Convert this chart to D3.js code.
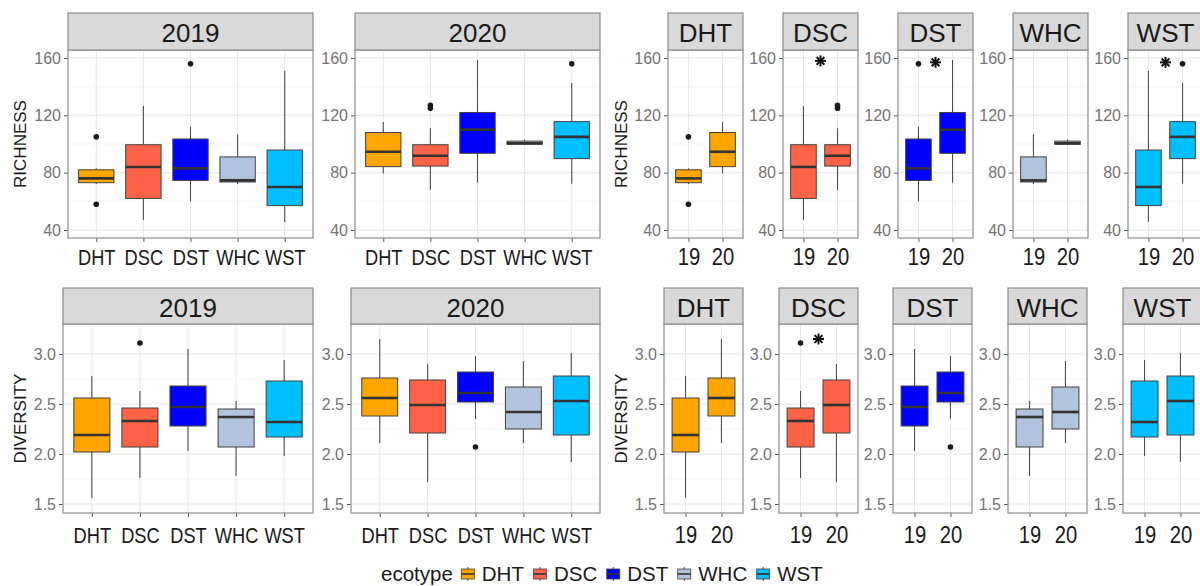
<!DOCTYPE html>
<html>
<head>
<meta charset="utf-8">
<script src="https://cdn.jsdelivr.net/npm/d3@7"></script>
<style>
  body { margin: 0; background: #fff; }
  svg { display: block; font-family: "Liberation Sans", Arial, sans-serif; }
</style>
</head>
<body>
<div id="chart"></div>
<script>
const ecotypes = ["DHT", "DSC", "DST", "WHC", "WST"];
const ecoColors = ["#FFA500", "#FF6347", "#0000FF", "#B0C4DE", "#00BFFF"];
const years = ["2019", "2020"];
const yearTicks = ["19", "20"];

// box stats per ecotype: [lower whisker, q1, median, q3, upper whisker]
const rich2019 = [
  [72, 73, 76, 82, 83],
  [47, 62, 84, 99.5, 126.5],
  [60, 74.6, 83, 103.5, 112],
  [72, 73.5, 74.6, 91, 106.7],
  [45.6, 57, 70, 95.8, 151]
];
const rich2020 = [
  [79.5, 84.2, 94.6, 108, 115.3],
  [68, 84.6, 91.8, 99.5, 111],
  [73, 93.5, 110, 122, 158.6],
  [99.8, 99.8, 100.5, 102, 103.2],
  [72.3, 89.8, 105, 115.6, 142.6]
];
const richOut2019 = [[105, 58], [], [156], [], []];
const richOut2020 = [[], [125, 127], [], [], [156]];
const richStars = [null, 158, 157, null, 157];

const div2019 = [
  [1.56, 2.02, 2.19, 2.56, 2.78],
  [1.76, 2.07, 2.33, 2.46, 2.63],
  [2.03, 2.28, 2.47, 2.68, 3.05],
  [1.78, 2.07, 2.37, 2.45, 2.53],
  [1.98, 2.17, 2.32, 2.73, 2.94]
];
const div2020 = [
  [2.11, 2.38, 2.56, 2.76, 3.15],
  [1.72, 2.21, 2.49, 2.74, 2.90],
  [2.35, 2.52, 2.61, 2.82, 2.98],
  [2.11, 2.25, 2.42, 2.67, 2.93],
  [1.92, 2.19, 2.53, 2.78, 3.01]
];
const divOut2019 = [[], [3.11], [], [], []];
const divOut2020 = [[], [], [2.07], [], []];
const divStars = [null, 3.15, null, null, null];

const richTicks = [40, 80, 120, 160];
const richMinor = [60, 100, 140];
const divTicks = [1.5, 2.0, 2.5, 3.0];
const divMinor = [1.75, 2.25, 2.75];

const W = 1200, H = 586;
const svg = d3.select("#chart").append("svg")
  .attr("width", W)
  .attr("height", H);

// layout of the two rows
const rows = [
  {
    name: "RICHNESS", stats: [rich2019, rich2020], outs: [richOut2019, richOut2020], stars: richStars,
    ticks: richTicks, minor: richMinor, domain: [34.4, 165.6], fmt: d3.format("d"),
    stripTop: 13, y0: 50, y1: 238, stripBase: 42, labelBase: 265,
    left: [[68, 313], [355, 600]], right: [668, 783, 898, 1013, 1128], rightW: 75
  },
  {
    name: "DIVERSITY", stats: [div2019, div2020], outs: [divOut2019, divOut2020], stars: divStars,
    ticks: divTicks, minor: divMinor, domain: [1.41, 3.30], fmt: d3.format(".1f"),
    stripTop: 288, y0: 324, y1: 513, stripBase: 317, labelBase: 543,
    left: [[63, 313], [351, 600]], right: [664, 779, 893, 1008, 1123], rightW: 79
  }
];

const border = "#8c8c8c";

function drawPanel(p) {
  const g = svg.append("g");
  const u = (p.x1 - p.x0) / (p.cats.length + 0.2);
  const x = d3.scalePoint().domain(p.cats).range([p.x0 + 0.6 * u, p.x1 - 0.6 * u]);
  const y = p.y;

  g.append("rect")
    .attr("x", p.x0).attr("y", p.y0)
    .attr("width", p.x1 - p.x0).attr("height", p.y1 - p.y0)
    .attr("fill", "#fff");

  // grid
  g.selectAll(".minor").data(p.minor).join("line")
    .attr("x1", p.x0).attr("x2", p.x1)
    .attr("y1", d => y(d)).attr("y2", d => y(d))
    .attr("stroke", "#f3f3f3").attr("stroke-width", 0.8);
  g.selectAll(".majory").data(p.ticks).join("line")
    .attr("x1", p.x0).attr("x2", p.x1)
    .attr("y1", d => y(d)).attr("y2", d => y(d))
    .attr("stroke", "#e6e6e6").attr("stroke-width", 1);
  g.selectAll(".majorx").data(p.cats).join("line")
    .attr("x1", d => x(d)).attr("x2", d => x(d))
    .attr("y1", p.y0).attr("y2", p.y1)
    .attr("stroke", "#e6e6e6").attr("stroke-width", 1);

  // y axis
  const ya = g.append("g")
    .attr("transform", `translate(${p.x0},0)`)
    .call(d3.axisLeft(y).tickValues(p.ticks).tickSize(4).tickFormat(p.fmt));
  ya.select(".domain").remove();
  ya.selectAll("line").attr("stroke", "#555");
  ya.selectAll("text")
    .attr("x", -7)
    .attr("font-size", 16)
    .attr("font-family", "Liberation Sans, Arial, sans-serif")
    .attr("fill", "#737373");

  // x axis
  const xa = g.append("g")
    .attr("transform", `translate(0,${p.y1})`)
    .call(d3.axisBottom(x).tickSize(4).tickFormat((d, i) => p.tickLabels[i]));
  xa.select(".domain").remove();
  xa.selectAll("line").attr("stroke", "#555");
  xa.selectAll("text")
    .attr("y", null).attr("dy", null)
    .attr("font-size", p.tickFont)
    .attr("font-family", "Liberation Sans, Arial, sans-serif")
    .attr("fill", "#1a1a1a")
    .attr("transform", `translate(0,${p.labelBase - p.y1}) scale(${p.squeeze},1)`);

  // boxes
  const bw = 0.75 * u;
  p.boxes.forEach(b => {
    const cx = x(b.key);
    const s = b.stats;
    g.append("line")
      .attr("x1", cx).attr("x2", cx)
      .attr("y1", y(s[4])).attr("y2", y(s[3]))
      .attr("stroke", "#4d4d4d").attr("stroke-width", 1.1);
    g.append("line")
      .attr("x1", cx).attr("x2", cx)
      .attr("y1", y(s[1])).attr("y2", y(s[0]))
      .attr("stroke", "#4d4d4d").attr("stroke-width", 1.1);
    g.append("rect")
      .attr("x", cx - bw / 2).attr("y", y(s[3]))
      .attr("width", bw).attr("height", Math.max(1, y(s[1]) - y(s[3])))
      .attr("fill", b.color)
      .attr("stroke", "#404040").attr("stroke-width", 1);
    g.append("line")
      .attr("x1", cx - bw / 2).attr("x2", cx + bw / 2)
      .attr("y1", y(s[2])).attr("y2", y(s[2]))
      .attr("stroke", "#333").attr("stroke-width", 2.6);
    g.selectAll(null).data(b.out).join("circle")
      .attr("cx", cx).attr("cy", d => y(d))
      .attr("r", 2.8).attr("fill", "#1a1a1a");
  });

  // significance asterisk between the two years
  if (p.star != null) {
    const sx = (x(p.cats[0]) + x(p.cats[1])) / 2;
    const sy = y(p.star);
    [0, 45, 90, 135].forEach(a => {
      const r = 5.5, t = a * Math.PI / 180;
      g.append("line")
        .attr("x1", sx - r * Math.cos(t)).attr("y1", sy - r * Math.sin(t))
        .attr("x2", sx + r * Math.cos(t)).attr("y2", sy + r * Math.sin(t))
        .attr("stroke", "#111").attr("stroke-width", 2);
    });
  }

  // panel border
  g.append("rect")
    .attr("x", p.x0).attr("y", p.y0)
    .attr("width", p.x1 - p.x0).attr("height", p.y1 - p.y0)
    .attr("fill", "none").attr("stroke", border).attr("stroke-width", 1.2);

  // strip
  g.append("rect")
    .attr("x", p.x0).attr("y", p.stripTop)
    .attr("width", p.x1 - p.x0).attr("height", p.y0 - p.stripTop)
    .attr("fill", "#d9d9d9").attr("stroke", border).attr("stroke-width", 1.2);
  g.append("text")
    .attr("x", (p.x0 + p.x1) / 2).attr("y", p.stripBase)
    .attr("text-anchor", "middle")
    .attr("font-size", 26)
    .attr("fill", "#1a1a1a")
    .text(p.title);
}

rows.forEach(r => {
  const y = d3.scaleLinear().domain(r.domain).range([r.y1, r.y0]);
  const common = {
    y: y, y0: r.y0, y1: r.y1, stripTop: r.stripTop, stripBase: r.stripBase,
    labelBase: r.labelBase, ticks: r.ticks, minor: r.minor, fmt: r.fmt
  };

  // by year: ecotypes on x
  years.forEach((yr, j) => {
    drawPanel(Object.assign({}, common, {
      x0: r.left[j][0], x1: r.left[j][1], title: yr,
      cats: ecotypes, tickLabels: ecotypes, tickFont: 22, squeeze: 0.83,
      boxes: ecotypes.map((e, i) => ({
        key: e, stats: r.stats[j][i], out: r.outs[j][i], color: ecoColors[i]
      })),
      star: null
    }));
  });

  // by ecotype: years on x
  ecotypes.forEach((e, i) => {
    drawPanel(Object.assign({}, common, {
      x0: r.right[i], x1: r.right[i] + r.rightW, title: e,
      cats: years, tickLabels: yearTicks, tickFont: 23, squeeze: 0.88,
      boxes: years.map((yr, j) => ({
        key: yr, stats: r.stats[j][i], out: r.outs[j][i], color: ecoColors[i]
      })),
      star: r.stars[i]
    }));
  });

  // y titles
  [20, 621].forEach(tx => {
    svg.append("text")
      .attr("transform", `translate(${tx + 6},${(r.y0 + r.y1) / 2}) rotate(-90)`)
      .attr("text-anchor", "middle")
      .attr("font-size", 17)
      .attr("fill", "#1a1a1a")
      .text(r.name);
  });
});

// legend
const leg = svg.append("g").attr("transform", "translate(381,574)");
let lx = 0;
const lt = leg.append("text")
  .attr("x", lx).attr("y", 7)
  .attr("font-size", 20.5).attr("fill", "#1a1a1a")
  .text("ecotype");
lx += lt.node().getComputedTextLength() + 8;
ecotypes.forEach((e, i) => {
  const k = leg.append("g").attr("transform", `translate(${lx},0)`);
  k.append("line")
    .attr("x1", 7).attr("x2", 7).attr("y1", -7).attr("y2", 7)
    .attr("stroke", "#4d4d4d");
  k.append("rect")
    .attr("x", 0.5).attr("y", -5).attr("width", 13).attr("height", 10)
    .attr("fill", ecoColors[i]).attr("stroke", "#404040").attr("stroke-width", 0.8);
  k.append("line")
    .attr("x1", 0.5).attr("x2", 13.5).attr("y1", 0).attr("y2", 0)
    .attr("stroke", "#333").attr("stroke-width", 1.6);
  const t = leg.append("text")
    .attr("x", lx + 21).attr("y", 7)
    .attr("font-size", 20.5).attr("fill", "#1a1a1a")
    .text(e);
  lx += 21 + t.node().getComputedTextLength() + 9;
});
</script>
</body>
</html>
